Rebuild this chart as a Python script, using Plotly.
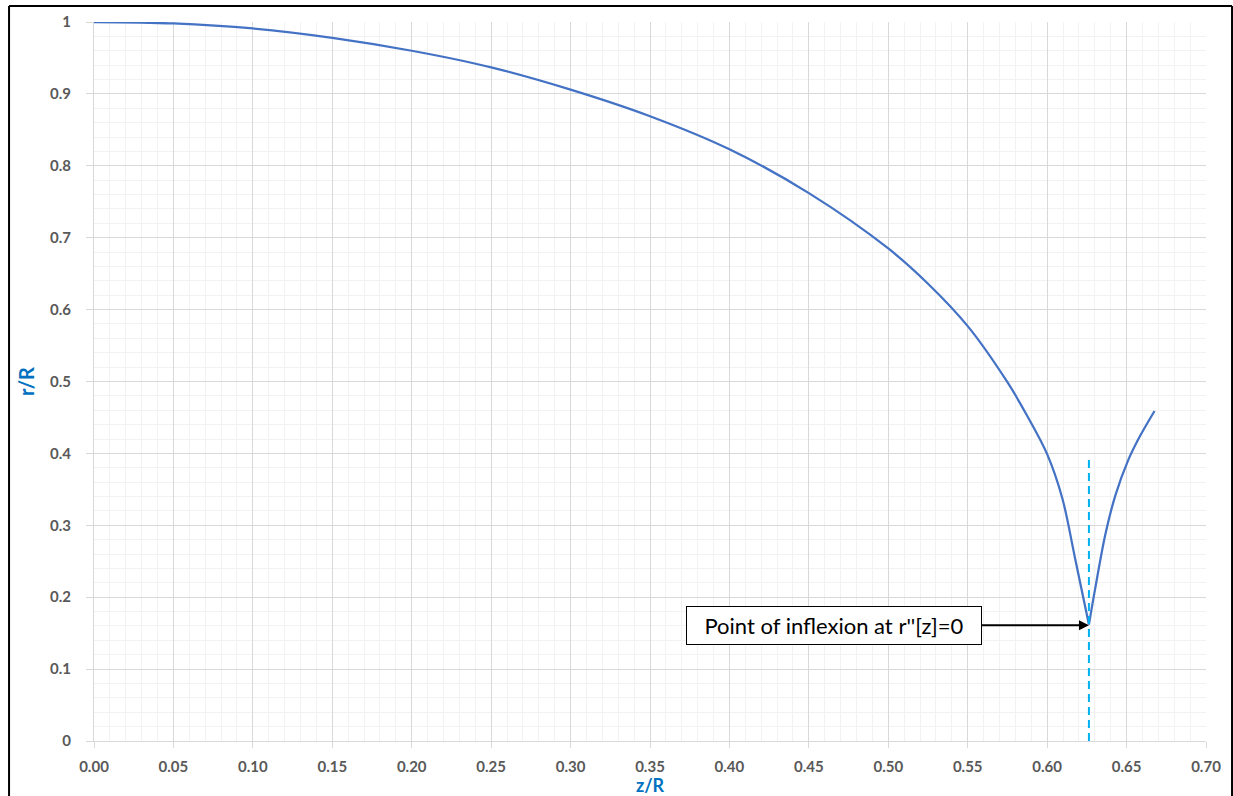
import plotly.graph_objects as go

# ---- data ----
# left (descending) branch, ends at the inflexion/cusp point
z_left = [0.0, 0.05, 0.10, 0.15, 0.20, 0.25, 0.30, 0.35, 0.40, 0.45, 0.50, 0.525,
          0.55, 0.575, 0.5875, 0.60, 0.6095, 0.6175, 0.6263]
r_left = [1.0, 0.998, 0.991, 0.978, 0.960, 0.937, 0.906, 0.869, 0.823, 0.762, 0.685, 0.636,
          0.577, 0.499, 0.452, 0.399, 0.338, 0.255, 0.162]
# right (rising) branch, starts at the cusp point
z_right = [0.6263, 0.6304, 0.6367, 0.6430, 0.6509, 0.6577, 0.6676]
r_right = [0.162, 0.214, 0.288, 0.342, 0.390, 0.421, 0.459]

inflex_z = [0.6263, 0.6263]
inflex_r = [0.0, 0.392]
inflex_point = (0.6263, 0.161)
label_anchor = (0.4658, 0.161)
label_text = "Point of inflexion at r''[z]=0"

x_tick_vals = [round(0.05 * i, 2) for i in range(15)]
x_tick_text = ["%.2f" % v for v in x_tick_vals]
y_tick_vals = [round(0.1 * i, 1) for i in range(11)]
y_tick_text = ["0", "0.1", "0.2", "0.3", "0.4", "0.5", "0.6", "0.7", "0.8", "0.9", "1"]

FONT = "Lato"
TICK_COLOR = "#595959"
TITLE_COLOR = "#0070C0"
CURVE = dict(color="#4472C4", width=2.25, shape="spline", smoothing=1.0)

fig = go.Figure()
fig.add_trace(go.Scatter(x=z_left, y=r_left, mode="lines", line=CURVE,
                         showlegend=False, hoverinfo="skip"))
fig.add_trace(go.Scatter(x=z_right, y=r_right, mode="lines", line=CURVE,
                         showlegend=False, hoverinfo="skip"))
fig.add_trace(go.Scatter(x=inflex_z, y=inflex_r, mode="lines",
                         line=dict(color="#00B0F0", width=2, dash="8px,5px"),
                         showlegend=False, hoverinfo="skip"))

fig.add_annotation(x=inflex_point[0], y=inflex_point[1], ax=label_anchor[0], ay=label_anchor[1],
                   xref="x", yref="y", axref="x", ayref="y",
                   text=label_text, showarrow=True, arrowhead=2, arrowsize=1.1, arrowwidth=1.8,
                   arrowcolor="black", standoff=0,
                   font=dict(family=FONT, size=22, color="#000000"),
                   bgcolor="white", bordercolor="black", borderwidth=1, borderpad=4,
                   width=286, height=29)

# outer frame
fig.add_shape(type="line", xref="paper", yref="paper", x0=-0.0764, x1=-0.0764, y0=-0.09, y1=1.0222,
              line=dict(color="black", width=2))
fig.add_shape(type="line", xref="paper", yref="paper", x0=-0.0764, x1=1.0234, y0=1.0222, y1=1.0222,
              line=dict(color="black", width=2))
fig.add_shape(type="line", xref="paper", yref="paper", x0=1.0234, x1=1.0234, y0=-0.09, y1=1.0222,
              line=dict(color="black", width=2))

fig.update_layout(
    width=1233, height=796,
    margin=dict(l=94, r=27, t=22, b=55),
    paper_bgcolor="white", plot_bgcolor="white",
    font=dict(family=FONT),
)
fig.update_xaxes(range=[0, 0.70], tickvals=x_tick_vals, ticktext=x_tick_text,
                 showgrid=True, gridcolor="#D9D9D9", gridwidth=1,
                 minor=dict(dtick=0.01, showgrid=True, gridcolor="#F2F2F2", gridwidth=1),
                 ticks="outside", ticklen=6, tickcolor="#D9D9D9",
                 showline=True, linecolor="#D9D9D9", linewidth=1,
                 zeroline=False, automargin=False, ticklabelstandoff=6,
                 tickfont=dict(family=FONT, size=15, color=TICK_COLOR, weight="bold"),
                 title=dict(text="z/R", standoff=3,
                            font=dict(family=FONT, size=18, color=TITLE_COLOR, weight="bold")))
fig.update_yaxes(range=[0, 1], tickvals=y_tick_vals, ticktext=y_tick_text,
                 showgrid=True, gridcolor="#D9D9D9", gridwidth=1,
                 minor=dict(dtick=0.02, showgrid=True, gridcolor="#F2F2F2", gridwidth=1),
                 ticks="outside", ticklen=7, tickcolor="#D9D9D9",
                 showline=True, linecolor="#D9D9D9", linewidth=1,
                 zeroline=False, automargin=False, ticklabelstandoff=12,
                 tickfont=dict(family=FONT, size=15, color=TICK_COLOR, weight="bold"),
                 title=dict(text="r/R", standoff=10,
                            font=dict(family=FONT, size=20, color=TITLE_COLOR, weight="bold")))

fig.write_html("out.html")
